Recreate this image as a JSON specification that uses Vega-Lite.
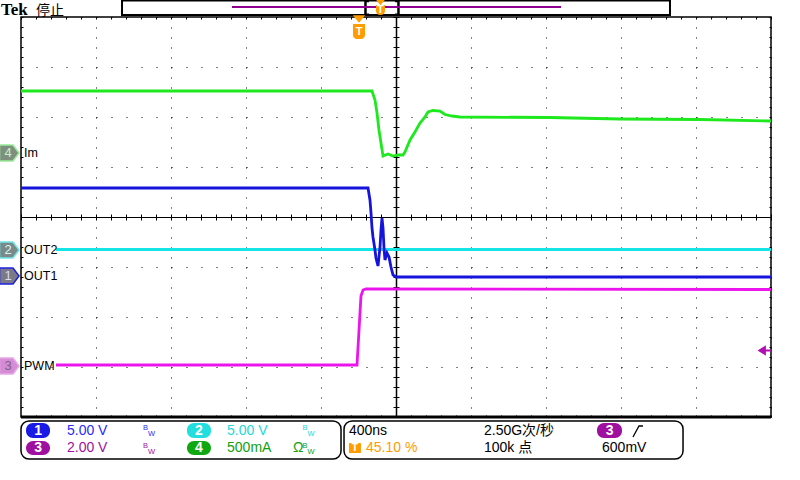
{
"$schema":"https://vega.github.io/schema/vega-lite/v6.json",
"width":750,"height":400,
"autosize":{"type":"none"},
"padding":{"left":21,"top":17,"right":29,"bottom":63},
"background":"white",
"view":{"stroke":"black","strokeWidth":1.5},
"config":{"font":"Liberation Sans, Noto Sans CJK SC","axis":{"title":null,"labels":false}},
"resolve":{"axis":{"x":"independent","y":"independent"},"scale":{"color":"independent","fill":"independent","stroke":"independent"}},
"datasets":{
"frame":[{"x":0,"x2":10,"y":-4}],
"traces":[
{"ch":"2","x":0.467,"y":-0.65},{"ch":"2","x":10,"y":-0.65},
{"ch":"3","x":0.467,"y":-2.96},{"ch":"3","x":4.48,"y":-2.96},{"ch":"3","x":4.507,"y":-2.26},{"ch":"3","x":4.533,"y":-1.58},{"ch":"3","x":4.56,"y":-1.46},{"ch":"3","x":4.6,"y":-1.44},{"ch":"3","x":10,"y":-1.45},
{"ch":"1","x":0,"y":0.58},{"ch":"1","x":4.627,"y":0.58},{"ch":"1","x":4.653,"y":0.34},{"ch":"1","x":4.667,"y":0.08},{"ch":"1","x":4.68,"y":-0.22},{"ch":"1","x":4.693,"y":-0.4},{"ch":"1","x":4.72,"y":-0.66},{"ch":"1","x":4.733,"y":-0.82},{"ch":"1","x":4.76,"y":-0.98},{"ch":"1","x":4.787,"y":-0.6},{"ch":"1","x":4.8,"y":-0.26},{"ch":"1","x":4.813,"y":-0.02},{"ch":"1","x":4.827,"y":-0.22},{"ch":"1","x":4.84,"y":-0.62},{"ch":"1","x":4.853,"y":-0.86},{"ch":"1","x":4.88,"y":-0.72},{"ch":"1","x":4.907,"y":-0.8},{"ch":"1","x":4.933,"y":-1.0},{"ch":"1","x":4.96,"y":-1.16},{"ch":"1","x":5.0,"y":-1.2},{"ch":"1","x":10,"y":-1.2},
{"ch":"4","x":0,"y":2.52},{"ch":"4","x":4.68,"y":2.52},{"ch":"4","x":4.72,"y":2.34},{"ch":"4","x":4.747,"y":2.08},{"ch":"4","x":4.773,"y":1.74},{"ch":"4","x":4.8,"y":1.48},{"ch":"4","x":4.827,"y":1.22},{"ch":"4","x":4.893,"y":1.26},{"ch":"4","x":4.96,"y":1.22},{"ch":"4","x":5.027,"y":1.24},{"ch":"4","x":5.093,"y":1.24},{"ch":"4","x":5.12,"y":1.3},{"ch":"4","x":5.187,"y":1.54},{"ch":"4","x":5.253,"y":1.7},{"ch":"4","x":5.32,"y":1.88},{"ch":"4","x":5.387,"y":2.0},{"ch":"4","x":5.427,"y":2.1},{"ch":"4","x":5.493,"y":2.13},{"ch":"4","x":5.587,"y":2.12},{"ch":"4","x":5.653,"y":2.05},{"ch":"4","x":5.747,"y":2.02},{"ch":"4","x":5.853,"y":2.0},{"ch":"4","x":7.053,"y":1.99},{"ch":"4","x":7.987,"y":1.96},{"ch":"4","x":9.053,"y":1.95},{"ch":"4","x":10,"y":1.92}
],
"bar":[{"x":1.347,"x2":8.653,"y":4.33,"y2":4.04}],
"barline":[{"x":2.813,"x2":7.2,"y":4.2}],
"bracket":[{"x":4.593,"x2":4.593,"y":4.33,"y2":4.03},{"x":5.033,"x2":5.033,"y":4.33,"y2":4.03},{"x":4.593,"x2":4.64,"y":4.32,"y2":4.32},{"x":4.593,"x2":4.64,"y":4.045,"y2":4.045},{"x":4.987,"x2":5.033,"y":4.32,"y2":4.32},{"x":4.987,"x2":5.033,"y":4.045,"y2":4.045}],
"markers":[{"ch":"4","t":"4","x":-0.153,"y":1.28},{"ch":"2","t":"2","x":-0.153,"y":-0.66},{"ch":"1","t":"1","x":-0.153,"y":-1.18},{"ch":"3","t":"3","x":-0.153,"y":-2.98}],
"labels":[{"t":"Im","x":0.04,"y":1.28},{"t":"OUT2","x":0.04,"y":-0.66},{"t":"OUT1","x":0.04,"y":-1.18},{"t":"PWM","x":0.04,"y":-2.98}],
"panels":[{"x":0,"x2":4.267,"y":-4.08,"y2":-4.84},{"x":4.307,"x2":8.827,"y":-4.08,"y2":-4.84}],
"pills":[{"ch":"1","x":0.067,"x2":0.387,"y":-4.12,"y2":-4.42},{"ch":"2","x":2.213,"x2":2.533,"y":-4.12,"y2":-4.42},{"ch":"3","x":0.067,"x2":0.387,"y":-4.48,"y2":-4.76},{"ch":"4","x":2.213,"x2":2.533,"y":-4.48,"y2":-4.76},{"ch":"3","x":7.68,"x2":8.013,"y":-4.12,"y2":-4.42}],
"pilltext":[{"t":"1","x":0.227,"y":-4.27},{"t":"2","x":2.373,"y":-4.27},{"t":"3","x":0.227,"y":-4.62},{"t":"4","x":2.373,"y":-4.62},{"t":"3","x":7.847,"y":-4.27}],
"ptext":[{"t":"5.00 V","c":"1","x":0.613,"y":-4.28},{"t":"5.00 V","c":"2","x":2.747,"y":-4.28},{"t":"2.00 V","c":"3","x":0.613,"y":-4.62},{"t":"500mA","c":"4","x":2.747,"y":-4.62},{"t":"Ω","c":"4","x":3.627,"y":-4.62},{"t":"400ns","c":"k","x":4.373,"y":-4.28},{"t":"45.10 %","c":"t","x":4.6,"y":-4.62},{"t":"2.50G次/秒","c":"k","x":6.173,"y":-4.28},{"t":"100k 点","c":"k","x":6.173,"y":-4.62},{"t":"600mV","c":"k","x":7.747,"y":-4.62}],
"bw":[{"t":"B","c":"1","x":1.66,"y":-4.22},{"t":"W","c":"1","x":1.74,"y":-4.34},{"t":"B","c":"2","x":3.787,"y":-4.22},{"t":"W","c":"2","x":3.867,"y":-4.34},{"t":"B","c":"3","x":1.66,"y":-4.57},{"t":"W","c":"3","x":1.74,"y":-4.69},{"t":"B","c":"4","x":3.787,"y":-4.57},{"t":"W","c":"4","x":3.867,"y":-4.69}],
"bigtri":[{"x":4.507,"y":3.96}],
"smalltri":[{"x":4.793,"y":4.29}],
"tboxes":[{"x":4.427,"x2":4.587,"y":3.86,"y2":3.56},{"x":4.733,"x2":4.853,"y":4.24,"y2":4.04}],
"ptbox":[{"x":4.373,"x2":4.533,"y":-4.52,"y2":-4.72}],
"tletters":[{"t":"T","x":4.507,"y":3.71},{"t":"T","x":4.793,"y":4.14},{"t":"T","x":4.453,"y":-4.62}],
"arrow":[{"x":9.89,"y":-2.67}],
"arrowline":[{"x":9.89,"x2":10,"y":-2.67}],
"edge":[{"x":8.16,"y":-4.4},{"x":8.24,"y":-4.18},{"x":8.293,"y":-4.18}],
"tek":[{"t":"Tek","x":-0.267,"y":4.15}],
"stop":[{"t":"停止","x":0.2,"y":4.13}]
},
"layer":[
{"data":{"name":"frame"},"mark":{"type":"rule","strokeWidth":3,"color":"black"},
 "encoding":{
  "x":{"field":"x","type":"quantitative","scale":{"domain":[0,10],"nice":false,"zero":false},"axis":{"orient":"bottom","values":[0,1,2,3,4,5,6,7,8,9,10],"grid":true,"gridColor":"black","gridDash":[1,9],"gridOpacity":1,"gridWidth":1,"ticks":false,"labels":false,"domain":false,"title":null,"zindex":0}},
  "x2":{"field":"x2"},
  "y":{"field":"y","type":"quantitative","scale":{"domain":[-4,4],"nice":false,"zero":false},"axis":{"orient":"left","values":[-4,-3,-2,-1,0,1,2,3,4],"grid":true,"gridColor":"black","gridDash":[1,14],"gridOpacity":1,"gridWidth":1,"ticks":false,"labels":false,"domain":false,"title":null,"zindex":0}}
 }},
{"data":{"name":"traces"},"mark":{"type":"line","strokeWidth":2.8},
 "encoding":{
  "x":{"field":"x","type":"quantitative","scale":{"domain":[0,10],"nice":false,"zero":false},"axis":{"orient":"bottom","offset":-200,"values":[0,0.2,0.4,0.6,0.8,1,1.2,1.4,1.6,1.8,2,2.2,2.4,2.6,2.8,3,3.2,3.4,3.6,3.8,4,4.2,4.4,4.6,4.8,5,5.2,5.4,5.6,5.8,6,6.2,6.4,6.6,6.8,7,7.2,7.4,7.6,7.8,8,8.2,8.4,8.6,8.8,9,9.2,9.4,9.6,9.8,10],"ticks":true,"tickSize":3,"tickColor":"black","tickWidth":1,"domain":true,"domainColor":"black","domainWidth":1,"labels":false,"grid":false,"title":null,"zindex":0}},
  "y":{"field":"y","type":"quantitative","scale":{"domain":[-4,4],"nice":false,"zero":false},"axis":{"orient":"left","offset":-375,"values":[-4,-3.8,-3.6,-3.4,-3.2,-3,-2.8,-2.6,-2.4,-2.2,-2,-1.8,-1.6,-1.4,-1.2,-1,-0.8,-0.6,-0.4,-0.2,0,0.2,0.4,0.6,0.8,1,1.2,1.4,1.6,1.8,2,2.2,2.4,2.6,2.8,3,3.2,3.4,3.6,3.8,4],"ticks":true,"tickSize":3,"tickColor":"black","tickWidth":1,"domain":true,"domainColor":"black","domainWidth":1.5,"labels":false,"grid":false,"title":null,"zindex":0}},
  "color":{"field":"ch","type":"nominal","scale":{"domain":["2","3","1","4"],"range":["#14e4e4","#ec14ec","#1414dc","#1ee81e"]},"legend":null}
 }},
{"data":{"name":"bar"},"mark":{"type":"rect","fill":"white","stroke":"black","strokeWidth":2},
 "encoding":{
  "x":{"field":"x","type":"quantitative","scale":{"domain":[0,10],"nice":false,"zero":false},"axis":{"orient":"top","offset":-200,"values":[0,0.2,0.4,0.6,0.8,1,1.2,1.4,1.6,1.8,2,2.2,2.4,2.6,2.8,3,3.2,3.4,3.6,3.8,4,4.2,4.4,4.6,4.8,5,5.2,5.4,5.6,5.8,6,6.2,6.4,6.6,6.8,7,7.2,7.4,7.6,7.8,8,8.2,8.4,8.6,8.8,9,9.2,9.4,9.6,9.8,10],"ticks":true,"tickSize":3,"tickColor":"black","tickWidth":1,"domain":false,"labels":false,"grid":false,"title":null,"zindex":0}},
  "x2":{"field":"x2"},
  "y":{"field":"y","type":"quantitative","scale":{"domain":[-4,4],"nice":false,"zero":false},"axis":{"orient":"right","offset":-375,"values":[-4,-3.8,-3.6,-3.4,-3.2,-3,-2.8,-2.6,-2.4,-2.2,-2,-1.8,-1.6,-1.4,-1.2,-1,-0.8,-0.6,-0.4,-0.2,0,0.2,0.4,0.6,0.8,1,1.2,1.4,1.6,1.8,2,2.2,2.4,2.6,2.8,3,3.2,3.4,3.6,3.8,4],"ticks":true,"tickSize":3,"tickColor":"black","tickWidth":1,"domain":false,"labels":false,"grid":false,"title":null,"zindex":0}},
  "y2":{"field":"y2"}
 }},
{"data":{"name":"bracket"},"mark":{"type":"rule","strokeWidth":2.5,"color":"black"},
 "encoding":{
  "x":{"field":"x","type":"quantitative","scale":{"domain":[0,10],"nice":false,"zero":false},"axis":{"orient":"bottom","offset":-400,"values":[0,0.2,0.4,0.6,0.8,1,1.2,1.4,1.6,1.8,2,2.2,2.4,2.6,2.8,3,3.2,3.4,3.6,3.8,4,4.2,4.4,4.6,4.8,5,5.2,5.4,5.6,5.8,6,6.2,6.4,6.6,6.8,7,7.2,7.4,7.6,7.8,8,8.2,8.4,8.6,8.8,9,9.2,9.4,9.6,9.8,10],"ticks":true,"tickSize":2,"tickColor":"black","tickWidth":1,"domain":false,"labels":false,"grid":false,"title":null,"zindex":0}},
  "x2":{"field":"x2"},
  "y":{"field":"y","type":"quantitative","scale":{"domain":[-4,4],"nice":false,"zero":false},"axis":{"orient":"left","offset":-750,"values":[-4,-3.8,-3.6,-3.4,-3.2,-3,-2.8,-2.6,-2.4,-2.2,-2,-1.8,-1.6,-1.4,-1.2,-1,-0.8,-0.6,-0.4,-0.2,0,0.2,0.4,0.6,0.8,1,1.2,1.4,1.6,1.8,2,2.2,2.4,2.6,2.8,3,3.2,3.4,3.6,3.8,4],"ticks":true,"tickSize":2,"tickColor":"black","tickWidth":1,"domain":false,"labels":false,"grid":false,"title":null,"zindex":0}},
  "y2":{"field":"y2"}
 }},
{"data":{"name":"barline"},"mark":{"type":"rule","strokeWidth":2,"color":"#900090"},
 "encoding":{
  "x":{"field":"x","type":"quantitative","scale":{"domain":[0,10],"nice":false,"zero":false},"axis":{"orient":"top","offset":-400,"values":[0,0.2,0.4,0.6,0.8,1,1.2,1.4,1.6,1.8,2,2.2,2.4,2.6,2.8,3,3.2,3.4,3.6,3.8,4,4.2,4.4,4.6,4.8,5,5.2,5.4,5.6,5.8,6,6.2,6.4,6.6,6.8,7,7.2,7.4,7.6,7.8,8,8.2,8.4,8.6,8.8,9,9.2,9.4,9.6,9.8,10],"ticks":true,"tickSize":2,"tickColor":"black","tickWidth":1,"domain":false,"labels":false,"grid":false,"title":null,"zindex":0}},
  "x2":{"field":"x2"},
  "y":{"field":"y","type":"quantitative","scale":{"domain":[-4,4],"nice":false,"zero":false},"axis":{"orient":"right","offset":-750,"values":[-4,-3.8,-3.6,-3.4,-3.2,-3,-2.8,-2.6,-2.4,-2.2,-2,-1.8,-1.6,-1.4,-1.2,-1,-0.8,-0.6,-0.4,-0.2,0,0.2,0.4,0.6,0.8,1,1.2,1.4,1.6,1.8,2,2.2,2.4,2.6,2.8,3,3.2,3.4,3.6,3.8,4],"ticks":true,"tickSize":2,"tickColor":"black","tickWidth":1,"domain":false,"labels":false,"grid":false,"title":null,"zindex":0}}
 }},
{"data":{"name":"markers"},"mark":{"type":"point","filled":true,"shape":"M-1,-0.8L0.35,-0.8L0.95,0L0.35,0.8L-1,0.8Z","size":400,"strokeWidth":1.5,"opacity":1},
 "encoding":{
  "x":{"field":"x","type":"quantitative","scale":{"domain":[0,10],"nice":false,"zero":false},"axis":null},
  "y":{"field":"y","type":"quantitative","scale":{"domain":[-4,4],"nice":false,"zero":false},"axis":null},
  "fill":{"field":"ch","type":"nominal","scale":{"domain":["1","2","3","4"],"range":["#7a7a8a","#7a8a8a","#d48cd4","#7f8f7f"]},"legend":null},
  "stroke":{"field":"ch","type":"nominal","scale":{"domain":["1","2","3","4"],"range":["#2020e0","#70e8e8","#e8a8e8","#98ec98"]},"legend":null}
 }},
{"data":{"name":"markers"},"mark":{"type":"text","fontSize":13,"align":"center","baseline":"middle","dx":-1.5},
 "encoding":{
  "x":{"field":"x","type":"quantitative","scale":{"domain":[0,10],"nice":false,"zero":false},"axis":null},
  "y":{"field":"y","type":"quantitative","scale":{"domain":[-4,4],"nice":false,"zero":false},"axis":null},
  "text":{"field":"t"},
  "color":{"field":"ch","type":"nominal","scale":{"domain":["1","2","3","4"],"range":["#dcdcf0","#dcf4f4","#806080","#c8f0c8"]},"legend":null}
 }},
{"data":{"name":"labels"},"mark":{"type":"text","fontSize":12.5,"align":"left","baseline":"middle","color":"black"},
 "encoding":{
  "x":{"field":"x","type":"quantitative","scale":{"domain":[0,10],"nice":false,"zero":false},"axis":null},
  "y":{"field":"y","type":"quantitative","scale":{"domain":[-4,4],"nice":false,"zero":false},"axis":null},
  "text":{"field":"t"}
 }},
{"data":{"name":"panels"},"mark":{"type":"rect","fill":"transparent","stroke":"black","strokeWidth":1.5,"cornerRadius":8},
 "encoding":{
  "x":{"field":"x","type":"quantitative","scale":{"domain":[0,10],"nice":false,"zero":false},"axis":null},
  "x2":{"field":"x2"},
  "y":{"field":"y","type":"quantitative","scale":{"domain":[-4,4],"nice":false,"zero":false},"axis":null},
  "y2":{"field":"y2"}
 }},
{"data":{"name":"pills"},"mark":{"type":"rect","cornerRadius":7},
 "encoding":{
  "x":{"field":"x","type":"quantitative","scale":{"domain":[0,10],"nice":false,"zero":false},"axis":null},
  "x2":{"field":"x2"},
  "y":{"field":"y","type":"quantitative","scale":{"domain":[-4,4],"nice":false,"zero":false},"axis":null},
  "y2":{"field":"y2"},
  "fill":{"field":"ch","type":"nominal","scale":{"domain":["1","2","3","4"],"range":["#1a1ae6","#22dede","#a010a0","#10a810"]},"legend":null}
 }},
{"data":{"name":"pilltext"},"mark":{"type":"text","fontSize":14,"fontWeight":"bold","align":"center","baseline":"middle","color":"white"},
 "encoding":{
  "x":{"field":"x","type":"quantitative","scale":{"domain":[0,10],"nice":false,"zero":false},"axis":null},
  "y":{"field":"y","type":"quantitative","scale":{"domain":[-4,4],"nice":false,"zero":false},"axis":null},
  "text":{"field":"t"}
 }},
{"data":{"name":"ptext"},"mark":{"type":"text","fontSize":14,"align":"left","baseline":"middle"},
 "encoding":{
  "x":{"field":"x","type":"quantitative","scale":{"domain":[0,10],"nice":false,"zero":false},"axis":null},
  "y":{"field":"y","type":"quantitative","scale":{"domain":[-4,4],"nice":false,"zero":false},"axis":null},
  "text":{"field":"t"},
  "color":{"field":"c","type":"nominal","scale":{"domain":["1","2","3","4","k","t"],"range":["#2a2af5","#1ed8d8","#a010a0","#10a010","#000000","#ff9c00"]},"legend":null}
 }},
{"data":{"name":"bw"},"mark":{"type":"text","fontSize":7.5,"align":"center","baseline":"middle"},
 "encoding":{
  "x":{"field":"x","type":"quantitative","scale":{"domain":[0,10],"nice":false,"zero":false},"axis":null},
  "y":{"field":"y","type":"quantitative","scale":{"domain":[-4,4],"nice":false,"zero":false},"axis":null},
  "text":{"field":"t"},
  "color":{"field":"c","type":"nominal","scale":{"domain":["1","2","3","4"],"range":["#2a2af5","#1ed8d8","#a010a0","#10a010"]},"legend":null}
 }},
{"data":{"name":"edge"},"mark":{"type":"line","color":"black","strokeWidth":1.3},
 "encoding":{
  "x":{"field":"x","type":"quantitative","scale":{"domain":[0,10],"nice":false,"zero":false},"axis":null},
  "y":{"field":"y","type":"quantitative","scale":{"domain":[-4,4],"nice":false,"zero":false},"axis":null}
 }},
{"data":{"name":"bigtri"},"mark":{"type":"point","filled":true,"shape":"M-1,-0.6L1,-0.6L0,0.6Z","size":150,"color":"#ff9c00","opacity":1},
 "encoding":{
  "x":{"field":"x","type":"quantitative","scale":{"domain":[0,10],"nice":false,"zero":false},"axis":null},
  "y":{"field":"y","type":"quantitative","scale":{"domain":[-4,4],"nice":false,"zero":false},"axis":null}
 }},
{"data":{"name":"smalltri"},"mark":{"type":"point","filled":true,"shape":"M-1,-0.6L1,-0.6L0,0.6Z","size":80,"color":"#ff9c00","opacity":1},
 "encoding":{
  "x":{"field":"x","type":"quantitative","scale":{"domain":[0,10],"nice":false,"zero":false},"axis":null},
  "y":{"field":"y","type":"quantitative","scale":{"domain":[-4,4],"nice":false,"zero":false},"axis":null}
 }},
{"data":{"name":"tboxes"},"mark":{"type":"rect","color":"#ff9c00","cornerRadiusBottomLeft":4,"cornerRadiusBottomRight":4},
 "encoding":{
  "x":{"field":"x","type":"quantitative","scale":{"domain":[0,10],"nice":false,"zero":false},"axis":null},
  "x2":{"field":"x2"},
  "y":{"field":"y","type":"quantitative","scale":{"domain":[-4,4],"nice":false,"zero":false},"axis":null},
  "y2":{"field":"y2"}
 }},
{"data":{"name":"ptbox"},"mark":{"type":"rect","color":"#ff9c00","cornerRadius":1},
 "encoding":{
  "x":{"field":"x","type":"quantitative","scale":{"domain":[0,10],"nice":false,"zero":false},"axis":null},
  "x2":{"field":"x2"},
  "y":{"field":"y","type":"quantitative","scale":{"domain":[-4,4],"nice":false,"zero":false},"axis":null},
  "y2":{"field":"y2"}
 }},
{"data":{"name":"tletters"},"mark":{"type":"text","fontSize":11,"fontWeight":"bold","align":"center","baseline":"middle","color":"white"},
 "encoding":{
  "x":{"field":"x","type":"quantitative","scale":{"domain":[0,10],"nice":false,"zero":false},"axis":null},
  "y":{"field":"y","type":"quantitative","scale":{"domain":[-4,4],"nice":false,"zero":false},"axis":null},
  "text":{"field":"t"}
 }},
{"data":{"name":"arrow"},"mark":{"type":"point","filled":true,"shape":"M-1,0L0.6,-1L0.6,1Z","size":110,"color":"#b010b0","opacity":1},
 "encoding":{
  "x":{"field":"x","type":"quantitative","scale":{"domain":[0,10],"nice":false,"zero":false},"axis":null},
  "y":{"field":"y","type":"quantitative","scale":{"domain":[-4,4],"nice":false,"zero":false},"axis":null}
 }},
{"data":{"name":"arrowline"},"mark":{"type":"rule","strokeWidth":2,"color":"#b010b0"},
 "encoding":{
  "x":{"field":"x","type":"quantitative","scale":{"domain":[0,10],"nice":false,"zero":false},"axis":null},
  "x2":{"field":"x2"},
  "y":{"field":"y","type":"quantitative","scale":{"domain":[-4,4],"nice":false,"zero":false},"axis":null}
 }},
{"data":{"name":"tek"},"mark":{"type":"text","font":"Liberation Serif","fontSize":17,"fontWeight":"bold","align":"left","baseline":"middle","color":"black"},
 "encoding":{
  "x":{"field":"x","type":"quantitative","scale":{"domain":[0,10],"nice":false,"zero":false},"axis":null},
  "y":{"field":"y","type":"quantitative","scale":{"domain":[-4,4],"nice":false,"zero":false},"axis":null},
  "text":{"field":"t"}
 }},
{"data":{"name":"stop"},"mark":{"type":"text","font":"Noto Sans CJK SC","fontSize":14,"align":"left","baseline":"middle","color":"black"},
 "encoding":{
  "x":{"field":"x","type":"quantitative","scale":{"domain":[0,10],"nice":false,"zero":false},"axis":null},
  "y":{"field":"y","type":"quantitative","scale":{"domain":[-4,4],"nice":false,"zero":false},"axis":null},
  "text":{"field":"t"}
 }}
]
}
